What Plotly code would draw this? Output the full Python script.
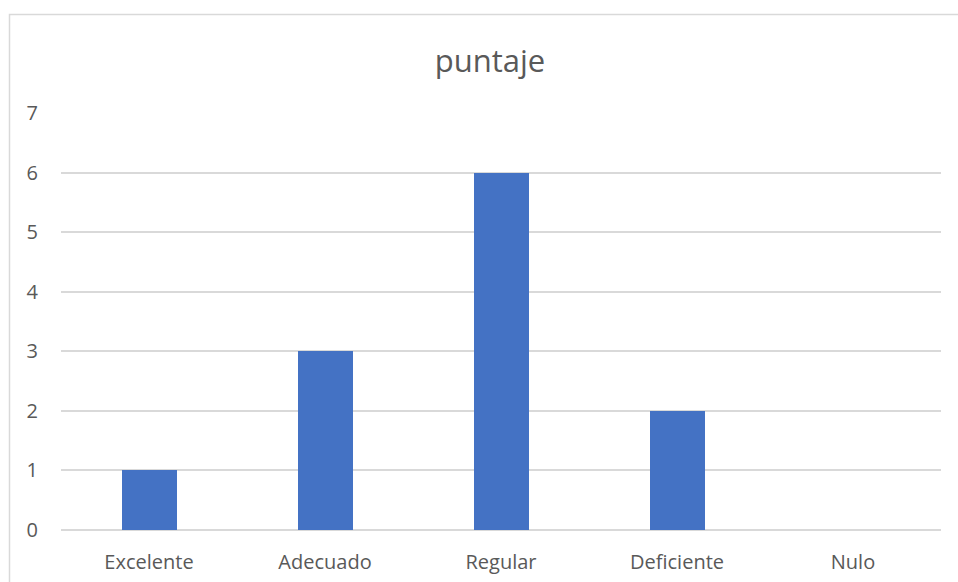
import plotly.graph_objects as go

categories = ["Excelente", "Adecuado", "Regular", "Deficiente", "Nulo"]
puntaje = [1, 3, 6, 2, 0]
y_ticks = [0, 1, 2, 3, 4, 5, 6, 7]

W, H = 958, 582
L, R, T, B = 61, 17, 113, 52
pw, ph = W - L - R, H - T - B

fig = go.Figure(go.Bar(x=categories, y=puntaje, marker_color="#4472C4",
                       marker_line_width=0, width=0.3125))

def px_x(p):
    return (p - L) / pw

def px_y(p):
    return (H - B - p) / ph

fig.add_shape(type="path",
              path=f"M {px_x(9.5)},{px_y(600)} L {px_x(9.5)},{px_y(14.5)} L {px_x(1000)},{px_y(14.5)}",
              xref="paper", yref="paper", line=dict(color="#d9d9d9", width=1.5), layer="below")

fig.update_layout(
    width=W, height=H,
    margin=dict(l=L, r=R, t=T, b=B),
    paper_bgcolor="white", plot_bgcolor="white",
    title=dict(text="puntaje", x=490 / W, xanchor="center", y=1 - 61 / H, yanchor="middle",
               font=dict(family="Open Sans", size=31, color="#595959")),
    font=dict(family="Open Sans", size=20, color="#595959"),
    showlegend=False,
    bargap=0,
)
fig.update_xaxes(showgrid=False, showline=False, ticks="", tickfont=dict(size=20, color="#595959"),
                 ticklabelstandoff=18, automargin=False)
fig.update_yaxes(range=[0, 7], tickvals=y_ticks, showgrid=True, gridcolor="#d9d9d9", gridwidth=1.5,
                 zeroline=True, zerolinecolor="#d9d9d9", zerolinewidth=1.5, showline=False,
                 ticks="", ticklabelstandoff=22, tickfont=dict(size=20, color="#595959"),
                 automargin=False)

fig.write_html("out.html", config={"displayModeBar": False},
               post_script="document.body.style.margin='0';")
